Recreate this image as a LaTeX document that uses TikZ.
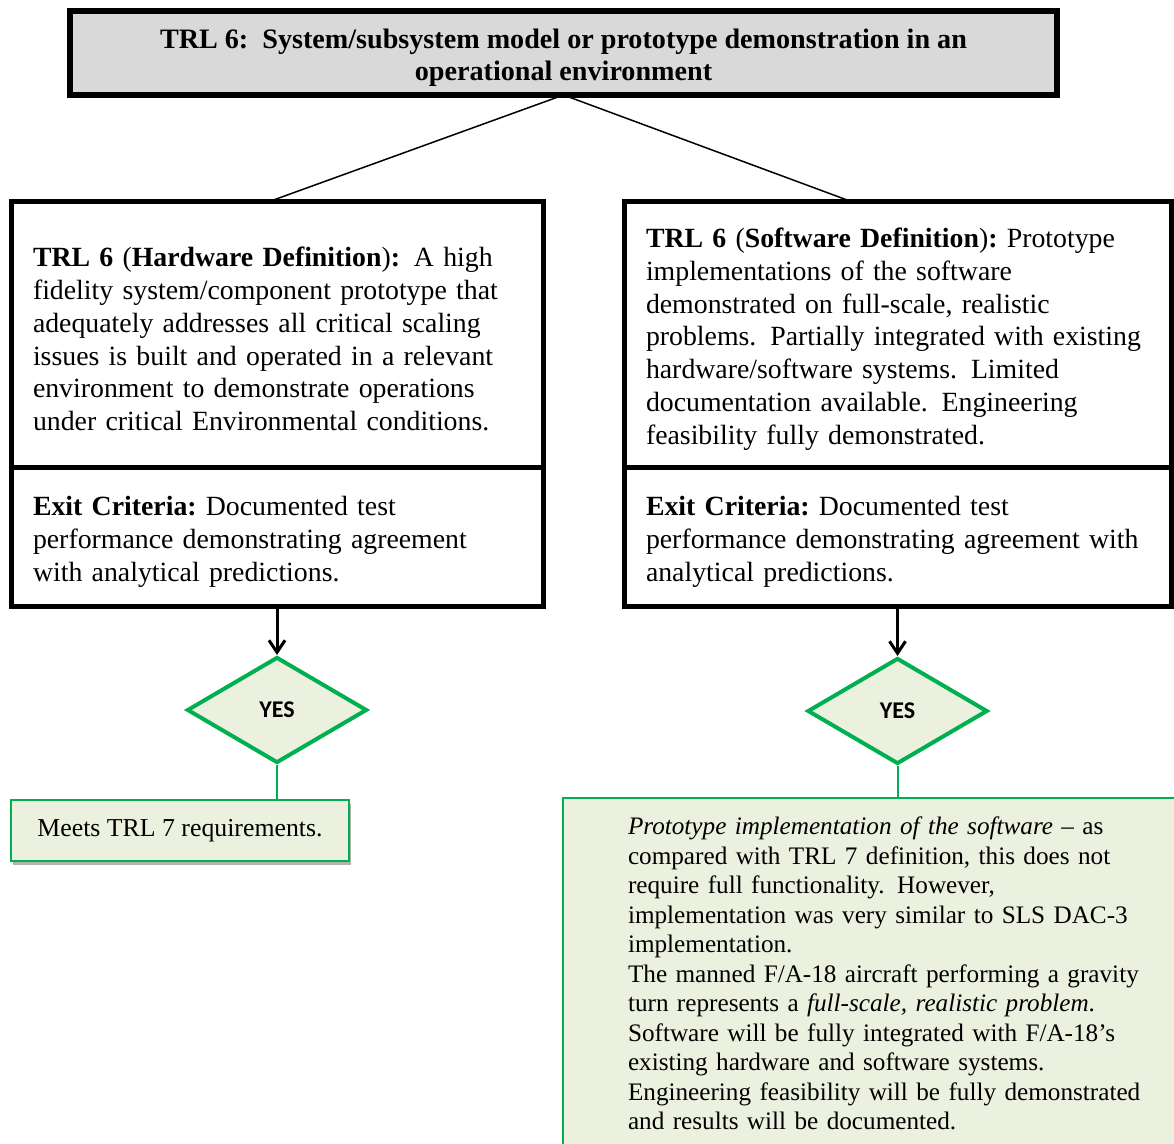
\documentclass[tikz,border=0pt]{standalone}
\usepackage{fontspec}
\setmainfont{Liberation Serif}
\newfontfamily\yesfont{Carlito}
\usepackage{tikz}
\usetikzlibrary{calc, shapes.geometric, arrows.meta, shadows}

\definecolor{boxgreen}{RGB}{0,176,80}
\definecolor{palegreen}{RGB}{235,241,222}
\definecolor{titlegray}{RGB}{217,217,217}

\newcommand{\twosp}{\hspace{0.5em}}
\frenchspacing

\begin{document}
\begin{tikzpicture}[x=0.5pt, y=-0.5pt,
	defbox/.style={draw, line width=2.5pt, anchor=north west, outer sep=0pt, align=left, inner xsep=11pt, inner ysep=0pt, font=\fontsize{13.9}{16.4}\selectfont, execute at begin node={\rule{0pt}{14pt}}},
	yesdiamond/.style={diamond, draw=boxgreen, line width=2pt, fill=palegreen, minimum width=90pt, minimum height=53pt, inner sep=0pt, font=\yesfont\bfseries\fontsize{12}{12}\selectfont},
	resultbox/.style={draw=boxgreen, line width=1pt, fill=palegreen, anchor=north west, outer sep=0pt, drop shadow={shadow xshift=1.2pt, shadow yshift=-1.8pt, fill=black, opacity=0.3}},
	thinline/.style={line width=0.75pt},
	greenline/.style={draw=boxgreen, line width=1pt},
	downarrow/.style={line width=1.5pt, -{Straight Barb[length=6pt,width=8pt]}}]
	\useasboundingbox (0,0) rectangle (1174,1144);
	\clip (0,0) rectangle (1174,1144);

	%title
	\node[draw, line width=3pt, fill=titlegray, anchor=north west, outer sep=0pt, minimum width=493.5pt, minimum height=42pt, inner sep=0pt, align=center, font=\bfseries\fontsize{14.07}{16}\selectfont] (title) at (70,11)
		{\rule{0pt}{14.5pt}TRL 6:\twosp System/subsystem model or prototype demonstration in an\\ operational environment};

	%definition boxes - hardware
	\node[defbox, text width=244pt, minimum height=133pt] (hwdef) at (11,202)
		{\textbf{TRL 6 }(\textbf{Hardware Definition})\textbf{:}\twosp A high\\
		fidelity system/component prototype that\\
		adequately addresses all critical scaling\\
		issues is built and operated in a relevant\\
		environment to demonstrate operations\\
		under critical Environmental conditions.};
	\node[defbox, text width=244pt, minimum height=69.5pt] (hwexit) at (11,468)
		{\textbf{Exit Criteria:} Documented test\\
		performance demonstrating agreement\\
		with analytical predictions.};

	%definition boxes - software
	\node[defbox, text width=251.5pt, minimum height=133pt] (swdef) at (624,202)
		{\textbf{TRL 6 }(\textbf{Software Definition})\textbf{:} Prototype\\
		implementations of the software\\
		demonstrated on full-scale, realistic\\
		problems.\twosp Partially integrated with existing\\
		hardware/software systems.\twosp Limited\\
		documentation available.\twosp Engineering\\
		feasibility fully demonstrated.};
	\node[defbox, text width=251.5pt, minimum height=69.5pt] (swexit) at (624,468)
		{\textbf{Exit Criteria:} Documented test\\
		performance demonstrating agreement with\\
		analytical predictions.};

	%decisions
	\node[yesdiamond] (hwyes) at (277,710) {YES};
	\node[yesdiamond] (swyes) at (897.5,711) {YES};

	%results
	\node[resultbox, minimum width=169pt, minimum height=30.5pt, font=\fontsize{12.9}{14.75}\selectfont] (hwresult) at (11,800)
		{Meets TRL 7 requirements.};
	\node[resultbox, text width=275pt, inner xsep=32.5pt, inner ysep=9.5pt, align=left, font=\fontsize{12.6}{14.75}\selectfont] (swresult) at (563,798)
		{\textit{Prototype implementation of the software} – as\\
		compared with TRL 7 definition, this does not\\
		require full functionality.\twosp However,\\
		implementation was very similar to SLS DAC-3\\
		implementation.\\
		The manned F/A-18 aircraft performing a gravity\\
		turn represents a \textit{full-scale, realistic problem}.\\
		Software will be fully integrated with F/A-18’s\\
		existing hardware and software systems.\\
		Engineering feasibility will be fully demonstrated\\
		and results will be documented.\rule[-15pt]{0pt}{1pt}};

	%connectors
	\draw[thinline] (title.south) -- ($(hwdef.north)+(-9,0)$);
	\draw[thinline] (title.south) -- ($(swdef.north)+(-45,0)$);
	\draw[downarrow] (hwexit.south) -- (hwyes.north);
	\draw[downarrow] (swexit.south) -- (swyes.north);
	\draw[greenline] (hwyes.south) -- (hwyes.south |- hwresult.north);
	\draw[greenline] (swyes.south) -- (swyes.south |- swresult.north);
\end{tikzpicture}
\end{document}
